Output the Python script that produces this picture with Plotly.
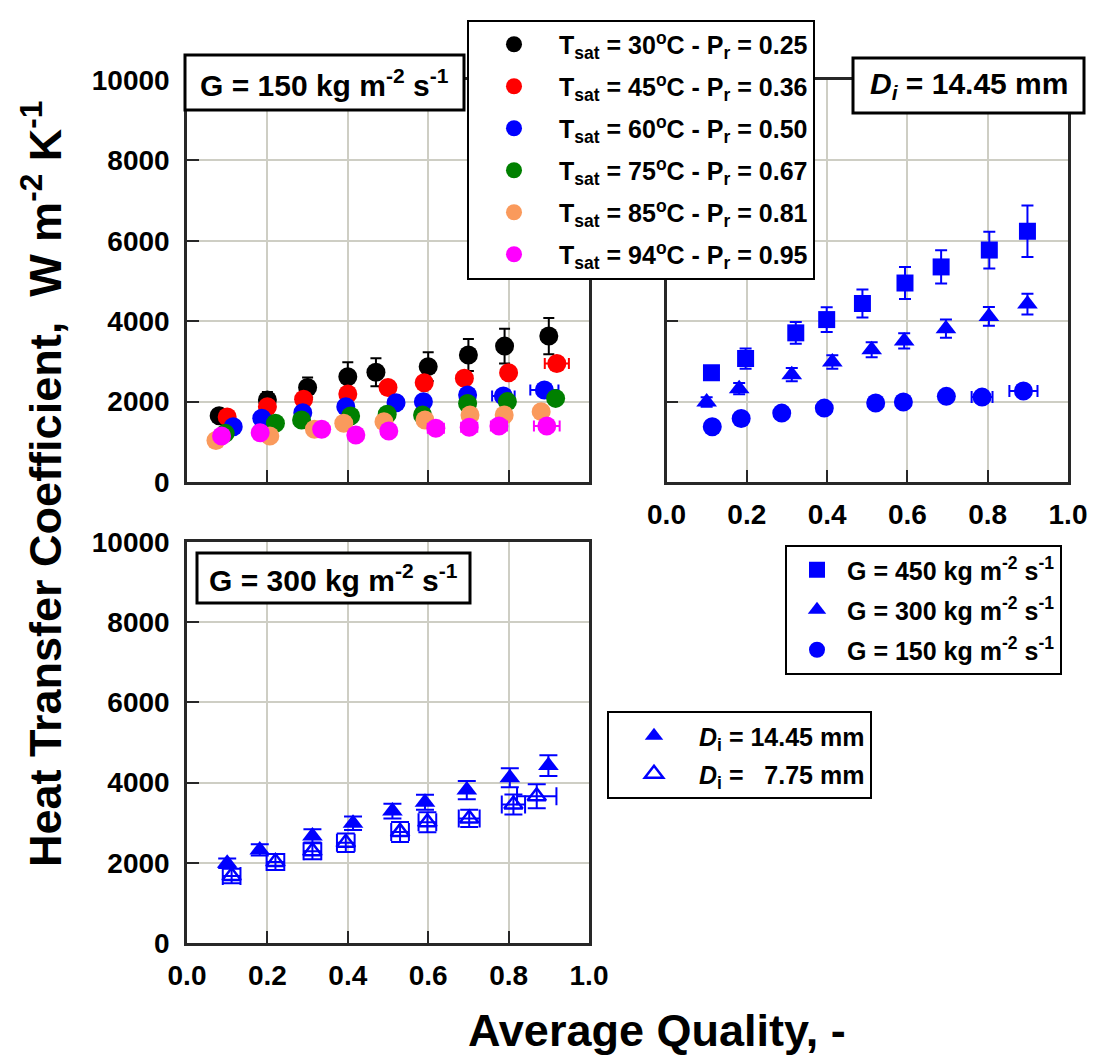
import plotly.graph_objects as go

W, H = 1094, 1057

# ---------------- data ----------------
# G = 150 kg m-2 s-1, Di = 14.45 mm, six saturation temperatures
q_t30 = [0.08, 0.20, 0.30, 0.40, 0.47, 0.60, 0.70, 0.79, 0.90]
h_t30 = [1650, 2040, 2350, 2620, 2730, 2870, 3160, 3380, 3630]
eh_t30 = [150, 200, 250, 360, 350, 360, 400, 430, 450]

q_t45 = [0.10, 0.20, 0.29, 0.40, 0.50, 0.59, 0.69, 0.80, 0.92]
h_t45 = [1620, 1870, 2060, 2190, 2350, 2470, 2580, 2720, 2950]
eq_t45 = [0, 0, 0, 0, 0, 0, 0, 0, 0.03]

q_t60 = [0.115, 0.186, 0.288, 0.395, 0.52, 0.588, 0.698, 0.787, 0.889]
h_t60 = [1376, 1584, 1724, 1874, 1973, 1998, 2164, 2139, 2289]
eq_t60 = [0, 0, 0, 0, 0, 0, 0, 0.028, 0.035]

q_t75 = [0.095, 0.22, 0.285, 0.407, 0.498, 0.586, 0.698, 0.797, 0.917]
h_t75 = [1210, 1460, 1540, 1640, 1685, 1665, 1955, 2000, 2080]

q_t85 = [0.072, 0.206, 0.317, 0.39, 0.49, 0.592, 0.704, 0.789, 0.881]
h_t85 = [1030, 1145, 1310, 1460, 1500, 1540, 1665, 1665, 1750]

q_t94 = [0.086, 0.182, 0.335, 0.42, 0.502, 0.619, 0.702, 0.776, 0.895]
h_t94 = [1145, 1225, 1310, 1170, 1270, 1335, 1360, 1395, 1395]
eq_t94 = [0, 0, 0, 0, 0.015, 0.02, 0.02, 0.02, 0.032]

tsat_names = [
    "T<sub>sat</sub> = 30<sup>o</sup>C - P<sub>r</sub> = 0.25",
    "T<sub>sat</sub> = 45<sup>o</sup>C - P<sub>r</sub> = 0.36",
    "T<sub>sat</sub> = 60<sup>o</sup>C - P<sub>r</sub> = 0.50",
    "T<sub>sat</sub> = 75<sup>o</sup>C - P<sub>r</sub> = 0.67",
    "T<sub>sat</sub> = 85<sup>o</sup>C - P<sub>r</sub> = 0.81",
    "T<sub>sat</sub> = 94<sup>o</sup>C - P<sub>r</sub> = 0.95",
]
tsat_colors = ["#000000", "#FF0000", "#0000FF", "#008000", "#FA9A5C", "#FF00FF"]

# Di = 14.45 mm, three mass fluxes
q_g450 = [0.112, 0.197, 0.322, 0.399, 0.488, 0.594, 0.684, 0.804, 0.899]
h_g450 = [2720, 3070, 3710, 4040, 4440, 4950, 5350, 5770, 6240]
eh_g450 = [150, 250, 270, 310, 350, 400, 415, 456, 640]

q_g300 = [0.10, 0.181, 0.312, 0.413, 0.511, 0.592, 0.696, 0.803, 0.899]
h_g300 = [1990, 2320, 2670, 2985, 3290, 3510, 3815, 4120, 4425]
eh_g300 = [120, 140, 165, 170, 185, 190, 228, 235, 260]

q_g150 = [0.114, 0.186, 0.287, 0.393, 0.521, 0.59, 0.697, 0.786, 0.889]
h_g150 = [1375, 1580, 1714, 1838, 1963, 1988, 2130, 2112, 2262]
eq_g150 = [0, 0, 0, 0, 0, 0, 0, 0.026, 0.035]

g_names = [
    "G = 450 kg m<sup>-2</sup> s<sup>-1</sup>",
    "G = 300 kg m<sup>-2</sup> s<sup>-1</sup>",
    "G = 150 kg m<sup>-2</sup> s<sup>-1</sup>",
]

# G = 300 kg m-2 s-1, Di = 7.75 mm
q_d775 = [0.111, 0.22, 0.312, 0.395, 0.53, 0.598, 0.702, 0.812, 0.87]
h_d775 = [1670, 2020, 2290, 2500, 2770, 3010, 3105, 3455, 3660]
eh_d775 = [180, 200, 200, 230, 250, 250, 215, 250, 300]
eq_d775 = [0.022, 0.022, 0.022, 0.022, 0.022, 0.022, 0.026, 0.029, 0.049]

d_names = [
    "<i>D</i><sub>i</sub> = 14.45 mm",
    "<i>D</i><sub>i</sub> =\u00a0\u00a0 7.75 mm",
]

# ---------------- style ----------------
FONT = "Liberation Sans, Arial, Helvetica, sans-serif"
AXIS_LINE = "rgb(40,40,40)"
GRID = "rgb(206,206,196)"


def fx(p):
    return p / W


def fy(p):
    return 1 - p / H


def err(arr, color, cap):
    if arr is None:
        return dict(visible=False)
    return dict(type="data", array=arr, visible=True, color=color,
                thickness=2, width=cap)


fig = go.Figure()


def add(x, y, name, color, symbol, size, xa, ya, legend, group,
        ey=None, ex=None, cap=6, open_marker=False):
    marker = dict(symbol=symbol, size=size, color=color,
                  line=dict(width=2.5 if open_marker else 0, color=color))
    fig.add_trace(go.Scatter(
        x=x, y=y, name=name, mode="markers", marker=marker,
        xaxis=xa, yaxis=ya, legend=legend, legendgroup=group,
        error_y=err(ey, color, cap), error_x=err(ex, color, cap),
    ))


# top-left panel: G = 150, all saturation temperatures
tl = [
    (q_t30, h_t30, eh_t30, None),
    (q_t45, h_t45, None, eq_t45),
    (q_t60, h_t60, None, eq_t60),
    (q_t75, h_t75, None, None),
    (q_t85, h_t85, None, None),
    (q_t94, h_t94, None, eq_t94),
]
for i, (xq, yh, ey, ex) in enumerate(tl):
    add(xq, yh, tsat_names[i], tsat_colors[i], "circle", 19, "x", "y",
        "legend", "t%d" % i, ey=ey, ex=ex, cap=5.5)

# top-right panel: Di = 14.45 mm, three mass fluxes
add(q_g450, h_g450, g_names[0], "#0000FF", "square", 17, "x2", "y2",
    "legend2", "g450", ey=eh_g450, cap=6)
add(q_g300, h_g300, g_names[1], "#0000FF", "triangle-up", 18, "x2", "y2",
    "legend2", "g300", ey=eh_g300, cap=6)
add(q_g150, h_g150, g_names[2], "#0000FF", "circle", 19, "x2", "y2",
    "legend2", "g150", ex=eq_g150, cap=6)

# bottom-left panel: G = 300, two tube diameters
add(q_g300, h_g300, d_names[0], "#0000FF", "triangle-up", 18, "x3", "y3",
    "legend3", "d1445", ey=eh_g300, cap=9)
add(q_d775, h_d775, d_names[1], "#0000FF", "triangle-up-open", 16, "x3", "y3",
    "legend3", "d775", ey=eh_d775, ex=eq_d775, cap=9, open_marker=True)

# ---------------- axes ----------------
left_dom = [fx(187), fx(589)]
right_dom = [fx(666.5), fx(1068)]
top_dom = [fy(482), fy(80)]
bot_dom = [fy(943), fy(542)]

tickfont = dict(family=FONT, size=28, color="black", weight="bold")

common = dict(showline=True, linecolor=AXIS_LINE, linewidth=2.5, mirror=True,
              ticks="inside", ticklen=12, tickwidth=2, tickcolor=AXIS_LINE,
              showgrid=True, gridcolor=GRID, gridwidth=1.5, zeroline=False,
              tickfont=tickfont, automargin=False)

xcommon = dict(common, range=[0, 1], tick0=0, dtick=0.2, tickformat=".1f",
               ticklabelstandoff=6)
ycommon = dict(common, range=[0, 10000], tick0=0, dtick=2000, tickformat="d",
               ticklabelstandoff=9)

fig.update_layout(
    xaxis=dict(xcommon, domain=left_dom, anchor="y", showticklabels=False),
    yaxis=dict(ycommon, domain=top_dom, anchor="x"),
    xaxis2=dict(xcommon, domain=right_dom, anchor="y2"),
    yaxis2=dict(ycommon, domain=top_dom, anchor="x2", showticklabels=False),
    xaxis3=dict(xcommon, domain=left_dom, anchor="y3"),
    yaxis3=dict(ycommon, domain=bot_dom, anchor="x3"),
)

# ---------------- legends ----------------
leg_common = dict(bgcolor="white", bordercolor="black", borderwidth=2,
                  xanchor="left", yanchor="middle", itemsizing="trace",
                  font=dict(family=FONT, size=25, color="black", weight="bold"))
fig.update_layout(
    legend=dict(leg_common, x=fx(467), y=fy(149.5), itemwidth=80,
                tracegroupgap=6.5),
    legend2=dict(leg_common, x=fx(785), y=fy(610), itemwidth=50,
                 tracegroupgap=4.5),
    legend3=dict(leg_common, x=fx(607), y=fy(755), itemwidth=80,
                 tracegroupgap=2.5),
)

# ---------------- panel labels ----------------
shapes = []
annotations = []


def boxed_label(x0, y0, x1, y1, text):
    shapes.append(dict(type="rect", xref="paper", yref="paper",
                       x0=fx(x0), x1=fx(x1), y0=fy(y1), y1=fy(y0),
                       line=dict(color="black", width=3), fillcolor="white",
                       layer="above"))
    annotations.append(dict(xref="paper", yref="paper",
                            x=fx((x0 + x1) / 2), y=fy((y0 + y1) / 2),
                            xanchor="center", yanchor="middle", showarrow=False,
                            text=text,
                            font=dict(family=FONT, size=30, color="black",
                                      weight="bold")))


boxed_label(185, 55, 464, 110, "G = 150 kg m<sup>-2</sup> s<sup>-1</sup>")
boxed_label(197, 553, 470, 603, "G = 300 kg m<sup>-2</sup> s<sup>-1</sup>")
boxed_label(853, 58, 1084, 113, "<i>D<sub>i</sub></i> = 14.45 mm")

# axis titles
annotations.append(dict(
    xref="paper", yref="paper", x=fx(42), y=fy(484), xanchor="center",
    yanchor="middle", showarrow=False, textangle=-90,
    text="Heat Transfer Coefficient,  W m<sup>-2</sup> K<sup>-1</sup>",
    font=dict(family=FONT, size=45, color="black", weight="bold")))
annotations.append(dict(
    xref="paper", yref="paper", x=fx(466), y=fy(1030), xanchor="left",
    yanchor="middle", showarrow=False, text="Average Quality, -",
    font=dict(family=FONT, size=45, color="black", weight="bold")))

fig.update_layout(
    template="none",
    width=W, height=H,
    margin=dict(l=0, r=0, t=0, b=0, pad=0, autoexpand=False),
    paper_bgcolor="white", plot_bgcolor="white",
    font=dict(family=FONT, color="black"),
    shapes=shapes, annotations=annotations,
    showlegend=True,
)

fig.write_html("out.html")
